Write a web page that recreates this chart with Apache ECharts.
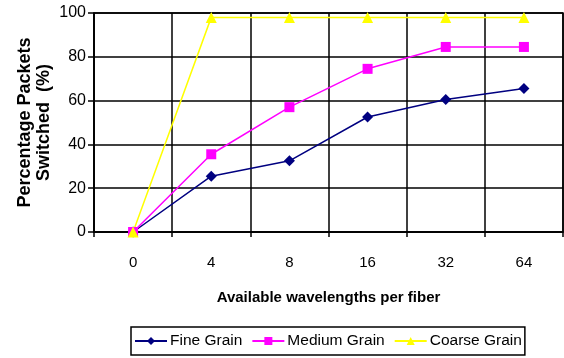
<!DOCTYPE html>
<html>
<head>
<meta charset="utf-8">
<script src="https://cdn.jsdelivr.net/npm/echarts@6/dist/echarts.min.js"></script>
<style>
html,body{margin:0;padding:0;background:#fff;}
#chart{width:564px;height:358px;}
</style>
</head>
<body>
<div id="chart"></div>
<script>
// Wavelength counts on the x axis
const categories = ['0', '4', '8', '16', '32', '64'];
// Percentage of packets switched per grain size
const fineGrain = [0, 25.5, 32.5, 52.5, 60.5, 65.5];
const mediumGrain = [0, 35.5, 57, 74.5, 84.5, 84.5];
const coarseGrain = [0, 98, 98, 98, 98, 98];
// Y axis bounds
const yMin = 0, yMax = 100, yStep = 20;

const font = 'Liberation Sans, Arial, sans-serif';
const chart = echarts.init(document.getElementById('chart'));

function lineSeries(name, data, color, symbol, size) {
  return {
    name: name,
    type: 'line',
    data: data,
    symbol: symbol,
    symbolSize: size,
    lineStyle: { color: color, width: 1.5 },
    itemStyle: { color: color },
    animation: false
  };
}

chart.setOption({
  backgroundColor: '#fff',
  textStyle: { fontFamily: font },
  grid: { left: 94, right: 1, top: 13, bottom: 126, show: true, borderColor: '#000', borderWidth: 1.5 },
  xAxis: {
    type: 'category',
    data: categories,
    boundaryGap: true,
    name: 'Available wavelengths per fiber',
    nameLocation: 'middle',
    nameGap: 58,
    nameMoveOverlap: false,
    nameTextStyle: { fontFamily: font, fontSize: 15, fontWeight: 'bold', color: '#000' },
    axisLine: { lineStyle: { color: '#000', width: 1.5 } },
    axisTick: { show: true, length: 5, lineStyle: { color: '#000', width: 1.5 } },
    axisLabel: { fontFamily: font, fontSize: 15, color: '#000', margin: 23 },
    splitLine: { show: true, lineStyle: { color: '#000', width: 1.5 } }
  },
  yAxis: {
    type: 'value',
    min: yMin, max: yMax, interval: yStep,
    name: 'Percentage Packets\nSwitched  (%)',
    nameLocation: 'middle',
    nameGap: 40,
    nameMoveOverlap: false,
    nameRotate: 90,
    nameTextStyle: { fontFamily: font, fontSize: 18, fontWeight: 'bold', color: '#000', lineHeight: 19 },
    axisLine: { show: true, lineStyle: { color: '#000', width: 1.5 } },
    axisTick: { show: true, length: 6, lineStyle: { color: '#000', width: 1.5 } },
    axisLabel: { fontFamily: font, fontSize: 16, color: '#000', margin: 8 },
    splitLine: { show: true, lineStyle: { color: '#000', width: 1.5 } }
  },
  legend: {
    left: 131, top: 327,
    itemWidth: 32, itemHeight: 10,
    itemGap: 9,
    padding: [6, 3, 6, 3],
    borderColor: '#000', borderWidth: 1.5,
    textStyle: { fontFamily: font, fontSize: 15.5, color: '#000', padding: [0, 0, 0, -2] },
    data: ['Fine Grain', 'Medium Grain', 'Coarse Grain']
  },
  series: [
    lineSeries('Fine Grain', fineGrain, '#000080', 'diamond', 11),
    lineSeries('Medium Grain', mediumGrain, '#FF00FF', 'rect', 10),
    lineSeries('Coarse Grain', coarseGrain, '#FFFF00', 'triangle', 11)
  ]
});
</script>
</body>
</html>
